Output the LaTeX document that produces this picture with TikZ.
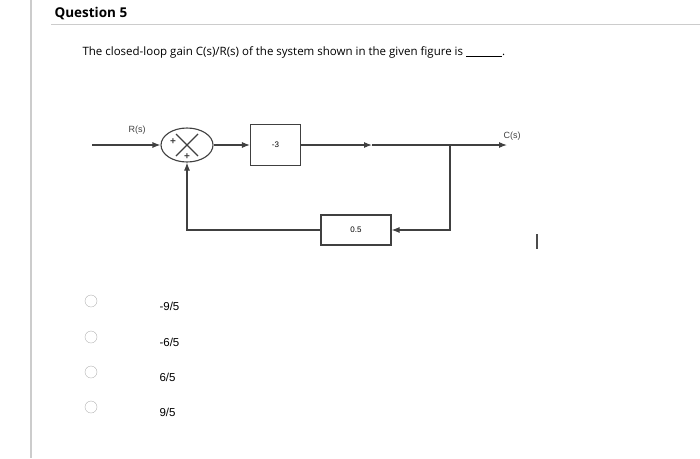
\documentclass[tikz,border=0pt]{standalone}
\usepackage{fontspec}
\setmainfont{Open Sans}
\newfontfamily\arial{Liberation Sans}
\usetikzlibrary{arrows.meta,shapes.geometric}
\begin{document}
\begin{tikzpicture}[x=1pt,y=-1pt,
  blk/.style={draw=black!75,line width=1.1pt,minimum width=50pt,minimum height=41pt,inner sep=0pt,font=\arial\fontsize{8}{9}\selectfont},
  wire/.style={draw=black!75,line width=1.1pt},
  arr/.style={wire,-{Latex[length=8pt,width=6pt]}},
  lbl/.style={font=\arial\fontsize{9}{10}\selectfont,text=black!75},
  opt/.style={font=\arial\fontsize{11.5}{13}\selectfont,anchor=west},
  radio/.style={draw=black!30,circle,minimum size=12pt,inner sep=0pt}]
\useasboundingbox (0,0) rectangle (700,458);
\draw[black!20,line width=1.5pt] (31,0) -- (31,458);
\node[anchor=west,font=\bfseries\fontsize{13.5}{15}\selectfont] (title) at (51,14) {Question 5};
\draw[black!20,line width=0.8pt] (51,24) -- (700,24);
\node[anchor=west,font=\fontsize{11.5}{14}\selectfont] (q) at (79,52) {The closed-loop gain C(s)/R(s) of the system shown in the given figure is \underline{\hspace{36pt}}.};
% diagram
\node[draw=black!75,line width=1.1pt,ellipse,minimum width=52pt,minimum height=34pt,inner sep=0pt] (sum) at (187,145) {};
\draw[black!75,line width=1.4pt] (sum.center) ++(-11,-11) -- ++(22,22) (sum.center) ++(11,-11) -- ++(-22,22);
\node[lbl,font=\bfseries\arial\fontsize{10}{11}\selectfont] (p1) at (173,142) {+};
\node[lbl,font=\bfseries\arial\fontsize{10}{11}\selectfont] (p2) at (187,157) {+};
\node[blk] (g) at (275.5,145) {-3};
\node[blk,minimum width=70pt,minimum height=30pt] (h) at (356,230) {0.5};
\coordinate (in) at (92,145);
\coordinate (br) at (450,145);
\coordinate (out) at (507,145);
\coordinate (mid) at (372,145);
\node[lbl] (R) at (137,130) {R(s)};
\node[lbl] (C) at (512,136) {C(s)};
\draw[arr] (in) -- (sum.west);
\draw[arr] (sum.east) -- (g.west);
\draw[arr] (g.east) -- (mid);
\draw[arr] (mid) -- (out);
\draw[arr] (br) |- (h.east);
\draw[arr] (h.west) -| (sum.south);
\node[draw=black!70,line width=0.8pt,minimum height=14pt,inner sep=0pt] (bar) at (537,241) {};
% options
\node[radio] (r1) at (91,301) {};
\node[radio] (r2) at (91,337) {};
\node[radio] (r3) at (91,372) {};
\node[radio] (r4) at (91,407) {};
\node[opt] (o1) at (156,306) {-9/5};
\node[opt] (o2) at (156,342) {-6/5};
\node[opt] (o3) at (156,377) {6/5};
\node[opt] (o4) at (156,412) {9/5};
\end{tikzpicture}
\end{document}
